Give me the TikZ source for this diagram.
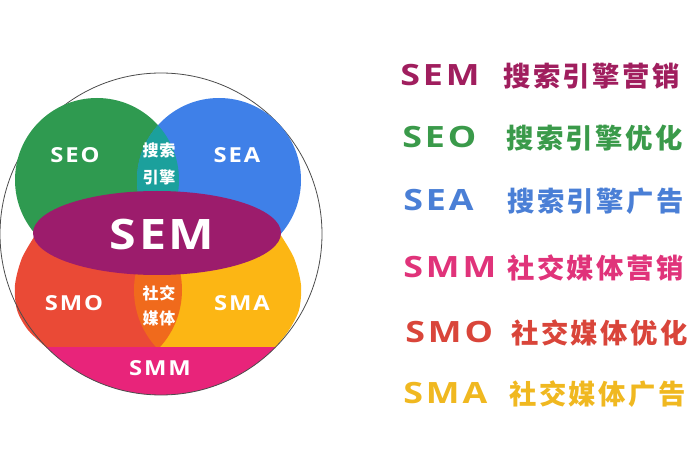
\documentclass[tikz,border=0pt]{standalone}
\usepackage{fontspec}
\newfontfamily\lat{Open Sans}
\newfontfamily\cjk{Noto Sans CJK SC}
\definecolor{cgreen}{HTML}{2F9A50}
\definecolor{cblue}{HTML}{3F80E8}
\definecolor{cteal}{HTML}{1BA09C}
\definecolor{cpurple}{HTML}{9C1C6C}
\definecolor{cred}{HTML}{EA4A36}
\definecolor{cyellow}{HTML}{FCB614}
\definecolor{corange}{HTML}{F06A1C}
\definecolor{cpink}{HTML}{E8247A}
\definecolor{tsem}{HTML}{A01E5E}
\definecolor{tseo}{HTML}{3A9A4A}
\definecolor{tsea}{HTML}{4A7FD6}
\definecolor{tsmm}{HTML}{E0337A}
\definecolor{tsmo}{HTML}{D9453A}
\definecolor{tsma}{HTML}{F0B820}
\tikzset{
  lbl/.style={text=white, inner sep=0pt, font=\lat\bfseries\fontsize{15.5}{16}\selectfont\addfontfeature{FakeStretch=1.15,LetterSpace=9}},
  cjkl/.style={text=white, inner sep=0pt, font=\cjk\bfseries\fontsize{12}{13}\selectfont\addfontfeature{LetterSpace=6}},
  bigl/.style={text=white, inner sep=0pt, font=\lat\bfseries\fontsize{31.5}{33}\selectfont\addfontfeature{FakeStretch=1.15,LetterSpace=6}},
  keyl/.style={anchor=west, inner sep=0pt, font=\lat\bfseries\fontsize{22}{24}\selectfont\addfontfeature{FakeStretch=1.22,LetterSpace=10}},
  desc/.style={anchor=west, inner sep=0pt, font=\cjk\bfseries\fontsize{20.5}{22}\selectfont\addfontfeature{LetterSpace=9}},
}
\begin{document}
\begin{tikzpicture}[x=0.75pt,y=-0.75pt]
\useasboundingbox (0,0) rectangle (700,470);
% lower halves
\fill[cred] plot[smooth] coordinates {(36,234) (22,258) (15,285) (17,310) (28,330) (47,348)} -- (158,348) -- (158,234) -- cycle;
\fill[cyellow] plot[smooth] coordinates {(280,234) (294,258) (301,285) (299,310) (289,330) (275,348)} -- (158,348) -- (158,234) -- cycle;
\begin{scope}
  \clip (0,0) rectangle (700,348);
  \clip (97,290) circle[radius=85];
  \fill[corange] (219,290) circle[radius=85];
\end{scope}
% pink segment
\begin{scope}
  \clip (0,348) rectangle (700,470);
  \fill[cpink] (161,234) circle[radius=161];
\end{scope}
% outer outline
\draw[draw=black!70, line width=0.6pt] (161,234) circle[radius=161];
% upper circles
\fill[cgreen] (97,180) circle[radius=82];
\fill[cblue] (219,180) circle[radius=82];
\begin{scope}
  \clip (97,180) circle[radius=82];
  \fill[cteal] (219,180) circle[radius=82];
\end{scope}
% SEM ellipse
\fill[cpurple] (157,233) ellipse[x radius=124, y radius=42];
% labels in diagram
\node[lbl] (seo) at (75,155) {SEO};
\node[lbl] (sea) at (237,155) {SEA};
\node[cjkl] (ss) at (159,150) {搜索};
\node[cjkl] (yq) at (159,177) {引擎};
\node[bigl] (sem) at (162,234) {SEM};
\node[lbl] (smo) at (74,303) {SMO};
\node[lbl] (sma) at (242,303) {SMA};
\node[cjkl] (sj) at (159,293) {社交};
\node[cjkl] (mt) at (159,318) {媒体};
\node[lbl] (smm) at (160,368) {SMM};
% legend
\node[keyl, text=tsem] (k1) at (400,75) {SEM};
\node[desc, text=tsem] (d1) at (503,76) {搜索引擎营销};
\node[keyl, text=tseo] (k2) at (402,137) {SEO};
\node[desc, text=tseo] (d2) at (506,138) {搜索引擎优化};
\node[keyl, text=tsea] (k3) at (403,200) {SEA};
\node[desc, text=tsea] (d3) at (507,201) {搜索引擎广告};
\node[keyl, text=tsmm] (k4) at (403,267) {SMM};
\node[desc, text=tsmm] (d4) at (507,268) {社交媒体营销};
\node[keyl, text=tsmo] (k5) at (405,332) {SMO};
\node[desc, text=tsmo] (d5) at (511,333) {社交媒体优化};
\node[keyl, text=tsma] (k6) at (403,393) {SMA};
\node[desc, text=tsma] (d6) at (509,394) {社交媒体广告};
\end{tikzpicture}
\end{document}
